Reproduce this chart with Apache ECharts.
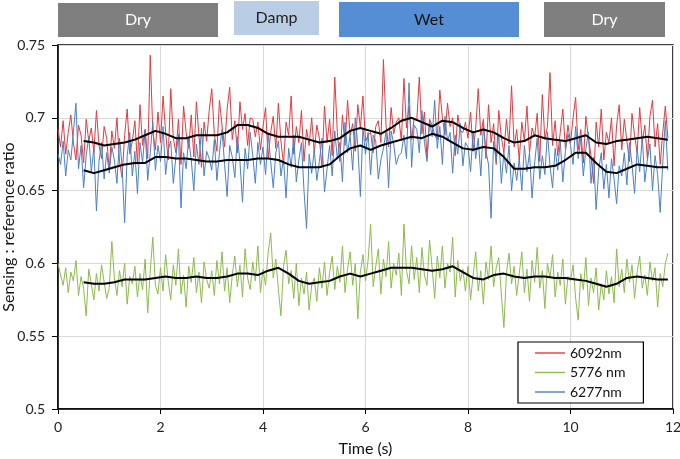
<!DOCTYPE html>
<html>
<head>
<meta charset="utf-8">
<script src="https://cdn.jsdelivr.net/npm/echarts@6/dist/echarts.min.js"></script>
<style>
  html, body { margin: 0; padding: 0; background: #fff; }
  #chart { width: 680px; height: 459px; }
</style>
</head>
<body>
<div id="chart"></div>
<script>
// sampling of raw traces (s) and of the running averages
const step = 0.05;
const avgStart = 0.5;
const avgStep = 0.2;

const seriesNames = ['6092nm', '5776 nm', '6277nm'];
const phases = ['Dry', 'Damp', 'Wet', 'Dry'];

// 6092nm raw
const red = [
  0.692, 0.680, 0.698, 0.675, 0.690, 0.702, 0.683, 0.671, 0.695, 0.688, 0.669, 0.699, 0.684, 0.693, 0.676, 0.705, 0.681, 0.672, 0.694, 0.686,
  0.664, 0.691, 0.679, 0.700, 0.670, 0.659, 0.688, 0.706, 0.675, 0.684, 0.698, 0.668, 0.709, 0.681, 0.692, 0.672, 0.743, 0.690, 0.678, 0.704,
  0.683, 0.715, 0.690, 0.671, 0.720, 0.686, 0.676, 0.699, 0.668, 0.708, 0.690, 0.679, 0.702, 0.673, 0.711, 0.688, 0.666, 0.697, 0.684, 0.705,
  0.720, 0.689, 0.677, 0.712, 0.695, 0.680, 0.706, 0.721, 0.685, 0.698, 0.676, 0.711, 0.692, 0.703, 0.681, 0.700, 0.699, 0.687, 0.697, 0.678,
  0.694, 0.707, 0.672, 0.690, 0.701, 0.679, 0.710, 0.684, 0.668, 0.697, 0.688, 0.715, 0.675, 0.694, 0.683, 0.705, 0.670, 0.692, 0.681, 0.700,
  0.676, 0.695, 0.686, 0.666, 0.708, 0.683, 0.699, 0.674, 0.728, 0.690, 0.670, 0.702, 0.681, 0.712, 0.688, 0.696, 0.677, 0.709, 0.693, 0.715,
  0.684, 0.688, 0.690, 0.676, 0.694, 0.698, 0.683, 0.740, 0.695, 0.680, 0.707, 0.689, 0.697, 0.700, 0.684, 0.727, 0.693, 0.708, 0.685, 0.700,
  0.698, 0.728, 0.689, 0.704, 0.672, 0.699, 0.695, 0.688, 0.685, 0.719, 0.700, 0.688, 0.710, 0.694, 0.700, 0.674, 0.702, 0.691, 0.690, 0.697,
  0.686, 0.704, 0.677, 0.693, 0.720, 0.688, 0.699, 0.672, 0.709, 0.683, 0.696, 0.668, 0.705, 0.687, 0.676, 0.699, 0.682, 0.722, 0.680, 0.692,
  0.671, 0.697, 0.684, 0.708, 0.676, 0.693, 0.687, 0.703, 0.670, 0.716, 0.685, 0.694, 0.731, 0.681, 0.698, 0.674, 0.690, 0.706, 0.679, 0.695,
  0.683, 0.700, 0.714, 0.678, 0.692, 0.669, 0.701, 0.686, 0.674, 0.655, 0.697, 0.680, 0.706, 0.671, 0.690, 0.683, 0.700, 0.667, 0.695, 0.709,
  0.678, 0.699, 0.684, 0.670, 0.703, 0.688, 0.676, 0.707, 0.683, 0.695, 0.672, 0.701, 0.712, 0.680, 0.696, 0.668, 0.690, 0.708, 0.686
];

// 5776 nm raw
const green = [
  0.600, 0.592, 0.585, 0.597, 0.580, 0.594, 0.588, 0.602, 0.578, 0.591, 0.583, 0.564, 0.596, 0.586, 0.575, 0.593, 0.581, 0.599, 0.587, 0.576,
  0.583, 0.615, 0.590, 0.578, 0.595, 0.584, 0.600, 0.572, 0.591, 0.586, 0.598, 0.577, 0.593, 0.582, 0.603, 0.566, 0.595, 0.618, 0.585, 0.579,
  0.597, 0.581, 0.606, 0.588, 0.575, 0.599, 0.585, 0.610, 0.579, 0.592, 0.570, 0.598, 0.587, 0.604, 0.580, 0.594, 0.573, 0.601, 0.589, 0.583,
  0.595, 0.578, 0.602, 0.586, 0.608, 0.581, 0.597, 0.573, 0.592, 0.605, 0.584, 0.599, 0.577, 0.610, 0.590, 0.582, 0.601, 0.588, 0.612, 0.580,
  0.596, 0.585, 0.607, 0.621, 0.590, 0.603, 0.582, 0.564, 0.598, 0.609, 0.586, 0.595, 0.576, 0.600, 0.571, 0.590, 0.579, 0.594, 0.568, 0.585,
  0.590, 0.574, 0.597, 0.583, 0.601, 0.578, 0.594, 0.605, 0.582, 0.598, 0.587, 0.612, 0.580, 0.596, 0.608, 0.585, 0.600, 0.562, 0.594, 0.606,
  0.588, 0.602, 0.627, 0.584, 0.598, 0.610, 0.579, 0.603, 0.591, 0.615, 0.583, 0.600, 0.592, 0.607, 0.578, 0.627, 0.595, 0.586, 0.612, 0.589,
  0.604, 0.580, 0.611, 0.592, 0.585, 0.616, 0.597, 0.576, 0.605, 0.590, 0.612, 0.583, 0.600, 0.594, 0.618, 0.577, 0.602, 0.588, 0.596, 0.581,
  0.598, 0.575, 0.592, 0.608, 0.581, 0.595, 0.572, 0.601, 0.589, 0.612, 0.584, 0.597, 0.604, 0.579, 0.556, 0.593, 0.607, 0.586, 0.598, 0.578,
  0.593, 0.608, 0.580, 0.596, 0.574, 0.602, 0.587, 0.611, 0.583, 0.595, 0.569, 0.600, 0.590, 0.606, 0.577, 0.594, 0.585, 0.603, 0.572, 0.591,
  0.588, 0.599, 0.576, 0.561, 0.593, 0.582, 0.604, 0.571, 0.590, 0.580, 0.597, 0.568, 0.586, 0.575, 0.595, 0.579, 0.591, 0.573, 0.610, 0.584,
  0.596, 0.580, 0.603, 0.587, 0.599, 0.576, 0.594, 0.605, 0.583, 0.592, 0.578, 0.601, 0.588, 0.597, 0.570, 0.593, 0.584, 0.600, 0.607
];

// 6277nm raw
const blue = [
  0.675, 0.668, 0.684, 0.660, 0.678, 0.671, 0.690, 0.710, 0.665, 0.681, 0.652, 0.674, 0.687, 0.663, 0.679, 0.636, 0.670, 0.683, 0.658, 0.676,
  0.662, 0.680, 0.671, 0.655, 0.686, 0.667, 0.628, 0.674, 0.690, 0.660, 0.677, 0.648, 0.683, 0.669, 0.692, 0.657, 0.676, 0.697, 0.664, 0.681,
  0.670, 0.694, 0.661, 0.678, 0.684, 0.655, 0.673, 0.689, 0.638, 0.676, 0.665, 0.686, 0.671, 0.650, 0.682, 0.668, 0.693, 0.660, 0.677, 0.672,
  0.664, 0.685, 0.657, 0.676, 0.692, 0.668, 0.646, 0.681, 0.673, 0.659, 0.687, 0.670, 0.642, 0.679, 0.665, 0.690, 0.674, 0.655, 0.683, 0.668,
  0.680, 0.661, 0.689, 0.670, 0.652, 0.676, 0.684, 0.660, 0.672, 0.645, 0.679, 0.666, 0.688, 0.656, 0.671, 0.683, 0.650, 0.624, 0.675, 0.662,
  0.678, 0.657, 0.670, 0.686, 0.649, 0.665, 0.681, 0.660, 0.691, 0.672, 0.683, 0.656, 0.697, 0.676, 0.688, 0.664, 0.700, 0.681, 0.646, 0.693,
  0.675, 0.690, 0.661, 0.688, 0.684, 0.658, 0.671, 0.679, 0.690, 0.652, 0.691, 0.682, 0.668, 0.674, 0.676, 0.688, 0.672, 0.724, 0.666, 0.695,
  0.692, 0.676, 0.705, 0.683, 0.670, 0.698, 0.687, 0.712, 0.679, 0.694, 0.668, 0.701, 0.684, 0.690, 0.662, 0.688, 0.675, 0.696, 0.667, 0.683,
  0.680, 0.663, 0.691, 0.672, 0.686, 0.660, 0.695, 0.677, 0.668, 0.631, 0.684, 0.670, 0.689, 0.655, 0.676, 0.662, 0.681, 0.650, 0.669, 0.657,
  0.672, 0.650, 0.681, 0.663, 0.676, 0.645, 0.669, 0.686, 0.658, 0.674, 0.661, 0.690, 0.667, 0.652, 0.679, 0.664, 0.684, 0.656, 0.677, 0.689,
  0.681, 0.668, 0.694, 0.672, 0.686, 0.660, 0.679, 0.690, 0.655, 0.673, 0.637, 0.664, 0.676, 0.651, 0.668, 0.645, 0.672, 0.658, 0.641, 0.667,
  0.660, 0.676, 0.654, 0.683, 0.668, 0.648, 0.679, 0.663, 0.687, 0.656, 0.671, 0.682, 0.650, 0.674, 0.661, 0.635, 0.669, 0.698, 0.664
];

// running averages (black lines), read every 0.2 s from 0.5 s
const redAvg = [
  0.684, 0.683, 0.681, 0.682, 0.683, 0.685, 0.688, 0.691, 0.689, 0.686,
  0.686, 0.688, 0.688, 0.688, 0.690, 0.695, 0.695, 0.693, 0.689, 0.687,
  0.687, 0.687, 0.685, 0.683, 0.684, 0.686, 0.691, 0.693, 0.691, 0.689,
  0.693, 0.698, 0.700, 0.697, 0.694, 0.698, 0.697, 0.693, 0.690, 0.692,
  0.690, 0.686, 0.683, 0.684, 0.688, 0.686, 0.685, 0.684, 0.686, 0.688,
  0.683, 0.682, 0.684, 0.685, 0.686, 0.687, 0.686, 0.685
];
const blueAvg = [
  0.664, 0.662, 0.664, 0.666, 0.668, 0.669, 0.669, 0.673, 0.673, 0.672,
  0.672, 0.671, 0.670, 0.670, 0.671, 0.671, 0.671, 0.672, 0.672, 0.671,
  0.668, 0.666, 0.666, 0.666, 0.668, 0.674, 0.679, 0.681, 0.678, 0.681,
  0.683, 0.685, 0.687, 0.686, 0.689, 0.687, 0.683, 0.679, 0.678, 0.680,
  0.679, 0.673, 0.665, 0.665, 0.666, 0.666, 0.667, 0.671, 0.676, 0.676,
  0.669, 0.663, 0.662, 0.665, 0.668, 0.667, 0.666, 0.666
];
const greenAvg = [
  0.587, 0.586, 0.586, 0.587, 0.589, 0.589, 0.589, 0.590, 0.591, 0.590,
  0.590, 0.591, 0.590, 0.590, 0.591, 0.593, 0.593, 0.592, 0.595, 0.597,
  0.593, 0.588, 0.586, 0.587, 0.588, 0.591, 0.593, 0.591, 0.593, 0.595,
  0.597, 0.597, 0.597, 0.596, 0.595, 0.596, 0.598, 0.594, 0.590, 0.589,
  0.592, 0.593, 0.591, 0.590, 0.591, 0.591, 0.590, 0.590, 0.589, 0.588,
  0.586, 0.584, 0.586, 0.590, 0.591, 0.590, 0.589, 0.589
];

function toPoints(values, start, dt) {
  return values.map((v, i) => [+(start + i * dt).toFixed(2), v]);
}

const font = 'Lato, "Open Sans", sans-serif';

function rawSeries(name, values, color) {
  return {
    name: name,
    type: 'line',
    data: toPoints(values, 0, step),
    symbol: 'none',
    lineStyle: { width: 1, color: color },
    itemStyle: { color: color },
    z: 2
  };
}

function avgSeries(values) {
  return {
    type: 'line',
    data: toPoints(values, avgStart, avgStep),
    symbol: 'none',
    lineStyle: { width: 2, color: '#000' },
    z: 3,
    silent: true
  };
}

// phase boxes along the top
const boxes = [
  { x: 58, y: 3, w: 160, h: 34, fill: '#7f7f7f', text: '#fff' },
  { x: 234, y: 1, w: 85, h: 34, fill: '#b9cde5', text: '#222' },
  { x: 339, y: 2, w: 180, h: 35, fill: '#558ed5', text: '#111' },
  { x: 544, y: 2, w: 121, h: 35, fill: '#7f7f7f', text: '#fff' }
];
const graphics = [];
boxes.forEach((b, i) => {
  graphics.push({
    type: 'rect',
    shape: { x: b.x, y: b.y, width: b.w, height: b.h },
    style: { fill: b.fill }
  });
  graphics.push({
    type: 'text',
    x: b.x + b.w / 2,
    y: b.y + b.h / 2,
    style: {
      text: phases[i], fill: b.text, font: '16px ' + font,
      textAlign: 'center', textVerticalAlign: 'middle'
    }
  });
});

const chart = echarts.init(document.getElementById('chart'));
chart.setOption({
  animation: false,
  backgroundColor: '#fff',
  textStyle: { fontFamily: font },
  grid: {
    left: 58, right: 7, top: 45, bottom: 50,
    containLabel: false,
    outerBoundsMode: 'none',
    show: true, borderColor: '#000', borderWidth: 1.5
  },
  legend: {
    data: seriesNames,
    orient: 'vertical',
    left: 518,
    top: 342,
    icon: 'path://M0,0 L30,0 L30,1.4 L0,1.4 Z',
    itemWidth: 30,
    itemHeight: 1.4,
    itemGap: 5.5,
    padding: [4, 18, 4, 17],
    borderColor: '#000',
    borderWidth: 1.2,
    borderRadius: 0,
    backgroundColor: '#fff',
    textStyle: { fontSize: 14, lineHeight: 14, color: '#111', fontFamily: font }
  },
  xAxis: {
    type: 'value',
    min: 0, max: 12, interval: 2,
    name: 'Time (s)',
    nameLocation: 'middle',
    nameGap: 32,
    nameTextStyle: { fontSize: 16, color: '#111' },
    axisLine: { lineStyle: { color: '#000', width: 1.5 } },
    axisTick: { show: true, length: 5, lineStyle: { color: '#000' } },
    axisLabel: { fontSize: 14, color: '#222', margin: 11 },
    splitLine: { lineStyle: { color: '#d9d9d9', width: 1 } }
  },
  yAxis: {
    type: 'value',
    min: 0.5, max: 0.75, interval: 0.05,
    name: 'Sensing : reference ratio',
    nameLocation: 'middle',
    nameRotate: 90,
    nameGap: 41,
    nameMoveOverlap: false,
    nameTextStyle: { fontSize: 16, color: '#111' },
    axisLine: { show: true, lineStyle: { color: '#000', width: 1.5 } },
    axisTick: { show: true, length: 6, lineStyle: { color: '#000' } },
    axisLabel: { fontSize: 14, color: '#222', margin: 13 },
    splitLine: { lineStyle: { color: '#d9d9d9', width: 1 } }
  },
  graphic: graphics,
  series: [
    rawSeries(seriesNames[0], red, '#e5393f'),
    rawSeries(seriesNames[1], green, '#8cbb4c'),
    rawSeries(seriesNames[2], blue, '#4a80c8'),
    avgSeries(redAvg),
    avgSeries(blueAvg),
    avgSeries(greenAvg)
  ]
});
</script>
</body>
</html>
